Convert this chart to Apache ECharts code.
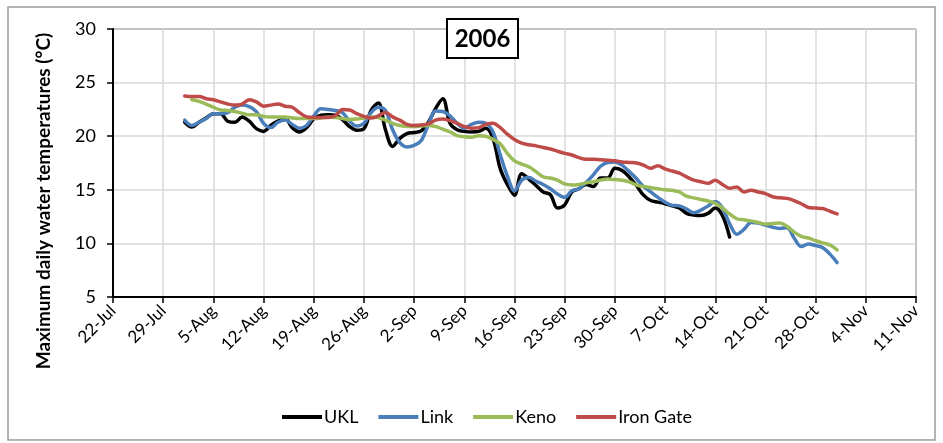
<!DOCTYPE html>
<html>
<head>
<meta charset="utf-8">
<script src="https://cdn.jsdelivr.net/npm/echarts@6/dist/echarts.min.js"></script>
<style>
  html, body { margin: 0; padding: 0; background: #fff; }
  #chart { width: 943px; height: 443px; }
</style>
</head>
<body>
<div id="chart"></div>
<script>
// Day 0 = 22-Jul-2006; ticks every 7 days
const xTickLabels = ['22-Jul', '29-Jul', '5-Aug', '12-Aug', '19-Aug', '26-Aug', '2-Sep', '9-Sep',
  '16-Sep', '23-Sep', '30-Sep', '7-Oct', '14-Oct', '21-Oct', '28-Oct', '4-Nov', '11-Nov'];

const seriesNames = ['UKL', 'Link', 'Keno', 'Iron Gate'];
const seriesColors = ['#000000', '#4a7ebb', '#9bbb59', '#be4b48'];

// First day of record for each station (days after 22-Jul)
const ukl_start = 10;
const link_start = 10;
const keno_start = 11;
const irongate_start = 10;

// Maximum daily water temperature (°C)
const ukl_temps = [
  21.3, 20.85, 21.3, 21.7, 22.1, 22.1, 21.4, 21.3, 21.8, 21.4,
  20.7, 20.45, 21.0, 21.4, 21.65, 20.8, 20.4, 20.8, 21.6, 21.95,
  22.0, 21.95, 21.55, 20.9, 20.55, 20.7, 22.4, 23.1, 20.6, 19.05,
  19.8, 20.25, 20.35, 20.5, 21.3, 22.6, 23.5, 21.2, 20.6, 20.45,
  20.4, 20.45, 20.75, 19.8, 17.0, 15.5, 14.5, 16.5, 16.0, 15.4,
  14.8, 14.55, 13.3, 13.6, 14.8, 15.1, 15.5, 15.3, 16.1, 16.1,
  17.0, 16.8, 16.2, 15.4, 14.5, 14.0, 13.85, 13.7, 13.5, 13.3,
  12.8, 12.65, 12.6, 12.8, 13.3, 12.6, 10.6
];
const link_temps = [
  21.5, 21.0, 21.3, 21.65, 22.1, 22.1, 22.2, 22.7, 22.9, 22.75,
  22.3, 21.2, 20.8, 21.3, 21.5, 21.1, 20.75, 21.0, 21.9, 22.55,
  22.5, 22.4, 22.2, 21.4, 20.95, 21.2, 22.2, 22.7, 22.4, 20.6,
  19.4, 19.0, 19.15, 19.6, 21.1, 22.35, 22.3, 21.9, 21.2, 20.75,
  21.1, 21.3, 21.2, 20.4, 18.3, 16.3, 14.9, 15.9, 16.15, 15.8,
  15.5, 15.1, 14.6, 14.3, 14.9, 15.1, 15.7, 16.4, 17.2, 17.55,
  17.6, 17.3, 16.7, 16.05, 15.3, 14.8, 14.3, 13.85, 13.55, 13.5,
  13.2, 12.85, 13.1, 13.5, 13.9, 13.3, 11.85, 10.85, 11.3, 11.95,
  11.9, 11.7, 11.5, 11.4, 11.45, 10.5, 9.7, 9.95, 9.8, 9.6,
  9.0, 8.2
];
const keno_temps = [
  23.4, 23.25, 23.0, 22.7, 22.45, 22.4, 22.3, 22.15, 22.0, 22.0,
  21.85, 21.8, 21.8, 21.8, 21.7, 21.65, 21.65, 21.65, 21.7, 21.8,
  21.75, 21.65, 21.55, 21.6, 21.7, 21.8, 21.75, 21.5, 21.2, 21.0,
  20.9, 20.9, 20.95, 21.0, 20.9, 20.65, 20.4, 20.05, 19.95, 19.9,
  20.05, 20.0, 19.7, 19.3, 18.4, 17.7, 17.4, 17.15, 16.7, 16.2,
  16.1, 15.9, 15.55, 15.45, 15.5, 15.65, 15.75, 15.9, 16.0, 15.95,
  15.9, 15.75, 15.45, 15.3, 15.2, 15.1, 15.0, 14.95, 14.8, 14.4,
  14.25, 14.1, 13.95, 13.75, 13.3, 12.75, 12.3, 12.2, 12.1, 11.95,
  11.8, 11.85, 11.9, 11.6, 11.05, 10.65, 10.5, 10.25, 10.05, 9.85,
  9.4
];
const irongate_temps = [
  23.75, 23.7, 23.7, 23.5, 23.4, 23.2, 23.0, 22.9, 23.0, 23.4,
  23.2, 22.8, 22.9, 23.0, 22.8, 22.7, 22.2, 21.8, 21.75, 21.75,
  21.75, 21.9, 22.5, 22.45, 22.1, 21.85, 21.7, 21.9, 22.2, 21.8,
  21.5, 21.1, 21.0, 21.05, 21.15, 21.5, 21.6, 21.45, 21.2, 20.9,
  20.75, 20.8, 21.1, 21.2, 20.8, 20.2, 19.7, 19.35, 19.2, 19.1,
  18.95, 18.8, 18.6, 18.4, 18.25, 18.0, 17.85, 17.85, 17.8, 17.75,
  17.7, 17.6, 17.55, 17.5, 17.3, 17.0, 17.25, 16.95, 16.75, 16.55,
  16.2, 15.9, 15.75, 15.6, 15.9, 15.5, 15.15, 15.25, 14.8, 14.95,
  14.8, 14.65, 14.35, 14.25, 14.2, 14.0, 13.7, 13.35, 13.3, 13.25,
  13.0, 12.75
];

const seriesStarts = [ukl_start, link_start, keno_start, irongate_start];
const seriesValues = [ukl_temps, link_temps, keno_temps, irongate_temps];

const FONT = 'Lato, "Open Sans", sans-serif';

const chart = echarts.init(document.getElementById('chart'), null, { renderer: 'canvas' });

const series = seriesNames.map((name, k) => ({
  name: name,
  type: 'line',
  smooth: 0.35,
  symbol: 'none',
  lineStyle: { color: seriesColors[k], width: 3.5, cap: 'round', join: 'round' },
  itemStyle: { color: seriesColors[k] },
  data: seriesValues[k].map((v, i) => [seriesStarts[k] + i, v])
}));

chart.setOption({
  animation: false,
  backgroundColor: '#ffffff',
  grid: {
    left: 113, right: 27, top: 29, bottom: 146,
    show: true, borderColor: '#000', borderWidth: 1, backgroundColor: 'transparent'
  },
  legend: {
    data: seriesNames,
    left: 277, top: 403,
    icon: 'rect',
    itemWidth: 40, itemHeight: 4, itemGap: 20,
    textStyle: { fontFamily: FONT, fontSize: 18, color: '#000', padding: [0, 0, 0, -3] }
  },
  xAxis: {
    type: 'value',
    min: 0, max: 112, interval: 7,
    axisLine: { lineStyle: { color: '#000', width: 2 } },
    axisTick: { show: true, length: 6, lineStyle: { color: '#000', width: 1.5 } },
    splitLine: { show: true, lineStyle: { color: '#d9d9d9', width: 1.5 } },
    axisLabel: {
      rotate: 45, margin: 11,
      fontFamily: FONT, fontSize: 17, color: '#000',
      formatter: v => xTickLabels[Math.round(v / 7)] || ''
    }
  },
  yAxis: {
    type: 'value',
    min: 5, max: 30, interval: 5,
    axisLine: { show: true, lineStyle: { color: '#000', width: 2 } },
    axisTick: { show: true, length: 6, lineStyle: { color: '#000', width: 1.5 } },
    splitLine: { show: true, lineStyle: { color: '#d9d9d9', width: 1.5 } },
    axisLabel: { fontFamily: FONT, fontSize: 18, color: '#000', margin: 17 }
  },
  graphic: [
    {
      type: 'rect', z: 0, silent: true,
      shape: { x: 8, y: 7, width: 927, height: 433 },
      style: { fill: 'none', stroke: '#9a9a9a', lineWidth: 1.5 }
    },
    {
      type: 'text', z: 10,
      x: 44, y: 201, rotation: Math.PI / 2,
      style: {
        text: 'Maximum daily water temperatures (°C)',
        fontFamily: FONT, fontSize: 19, fontWeight: 'bold', fill: '#000',
        align: 'center', verticalAlign: 'middle'
      }
    },
    {
      type: 'rect', z: 10,
      shape: { x: 447, y: 19, width: 71, height: 39 },
      style: { fill: '#fff', stroke: '#000', lineWidth: 2 }
    },
    {
      type: 'text', z: 11,
      x: 482.5, y: 39,
      style: {
        text: '2006', fontFamily: FONT, fontSize: 24, fontWeight: 'bold', fill: '#000',
        align: 'center', verticalAlign: 'middle'
      }
    }
  ],
  series: series
});
</script>
</body>
</html>
